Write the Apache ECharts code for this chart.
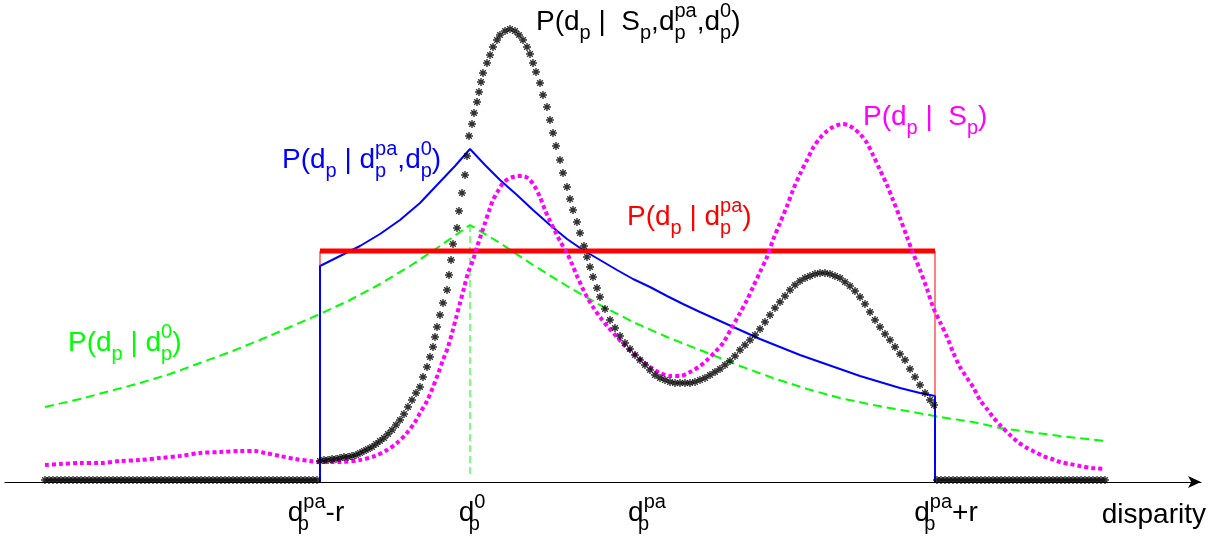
<!DOCTYPE html>
<html>
<head>
<meta charset="utf-8">
<script src="https://cdn.jsdelivr.net/npm/echarts@6/dist/echarts.min.js"></script>
<style>html,body{margin:0;padding:0;background:#fff}#c{width:1224px;height:548px}</style>
</head>
<body>
<div id="c"></div>
<script>
// ---- data (x: disparity, y: probability density, both in chart units) ----
const tickValues = [316, 472, 647, 946];
const tickLabels = [
  '{m|d}{sb0|p}{sp|pa}{m|-r}',
  '{m|d}{sb0|p}{sp|0}',
  '{m|d}{sb0|p}{sp|pa}',
  '{m|d}{sb0|p}{sp|pa}{m|+r}'
];
const axisName = '{m|disparity}';

const seriesNames = ['P(dp | dp0)', 'P(dp | dppa,dp0)', 'P(dp | dppa)', 'P(dp | Sp)', 'P(dp | Sp,dppa,dp0)'];

const greenPrior = [[45,75],[80,83],[110,91],[140,99],[170,108],[200,119],[230,130],[260,142],[290,155],[320,168],[350,182],[380,198],[410,216],[440,236],[470,257],[500,239],[533,217],[567,196],[600,177],[633,160],[667,145],[700,132],[740,116],[773,104],[807,93],[840,84],[873,77],[907,71],[940,65],[973,60],[1000,54],[1030,50],[1060,46],[1105,41]];
const greenMarker = [[470,257],[470,6]];

const bluePrior = [[320,0],[320,216],[340,226],[360,236],[380,248],[400,262],[420,279],[437,297],[455,316],[470,333],[485,317],[500,302],[517,287],[533,272],[550,257],[567,243],[583,232],[600,222],[617,212],[633,203],[650,195],[667,186],[683,178],[700,170],[720,161],[740,152],[760,143],[780,135],[800,127],[820,120],[840,113],[860,106],[880,100],[900,94],[920,89],[935,86],[935,0]];

const redUniform = [[320,231],[935,231]];
const redEdges = [[320,216],[320,231],'-',[935,231],[935,86]];

const magentaLik = [[45,17],[60,18],[80,19],[100,19],[120,21],[140,22],[160,24],[180,26],[200,29],[220,30],[240,31],[255,31],[265,29],[280,26],[295,23],[310,21],[320,20],[340,20],[360,22],[375,26],[387,32],[397,39],[407,49],[415,60],[420,69],[427,81],[433,95],[438,108],[443,122],[448,135],[452,149],[456,164],[460,179],[464,194],[468,209],[473,222],[477,235],[481,247],[485,259],[489,271],[493,282],[498,291],[503,299],[508,303],[513,305],[518,306],[522,306],[526,305],[530,302],[535,295],[540,285],[545,272],[550,261],[555,251],[560,241],[567,229],[572,218],[577,206],[582,195],[587,185],[593,175],[600,165],[608,155],[617,145],[625,136],[633,129],[641,122],[650,115],[660,109],[670,106],[680,106],[690,110],[700,116],[707,122],[715,130],[723,139],[731,153],[740,169],[747,182],[753,195],[760,210],[767,225],[773,242],[780,259],[787,276],[793,292],[800,308],[807,322],[813,334],[820,344],[827,351],[833,355],[838,357],[843,358],[848,357],[853,354],[860,348],[867,339],[873,327],[880,312],[887,297],[893,282],[900,264],[907,245],[913,229],[920,212],[927,193],[933,175],[940,160],[947,145],[953,130],[960,115],[967,104],[973,95],[980,82],[987,73],[993,65],[1000,57],[1010,47],[1018,40],[1027,34],[1035,30],[1043,26],[1052,23],[1060,20],[1070,18],[1080,16],[1092,14],[1105,13]];

const blackPost = [
[45,2],[49,2],[53,2],[57,2],[61,2],[65,2],[69,2],[73,2],[77,2],[81,2],[85,2],[89,2],[93,2],[97,2],[101,2],[105,2],[109,2],[113,2],[117,2],[121,2],[125,2],[129,2],[133,2],[137,2],[141,2],[145,2],[149,2],[153,2],[157,2],[161,2],[165,2],[169,2],[173,2],[177,2],[181,2],[185,2],[189,2],[193,2],[197,2],[201,2],[205,2],[209,2],[213,2],[217,2],[221,2],[225,2],[229,2],[233,2],[237,2],[241,2],[245,2],[249,2],[253,2],[257,2],[261,2],[265,2],[269,2],[273,2],[277,2],[281,2],[285,2],[289,2],[293,2],[297,2],[301,2],[305,2],[309,2],[313,2],[317,2],
[320,21],[324,22],[328,22],[332,23],[336,23],[340,24],[344,25],[348,25],[352,26],[356,27],[360,29],[364,31],[368,33],[372,35],[376,38],[380,41],[384,44],[388,48],[392,52],[396,57],[400,62],[404,68],[408,75],[412,82],[416,89],[420,95],[423,105],[427,115],[430,125],[433,135],[435,145],[437,155],[440,167],[443,179],[447,192],[449,207],[451,222],[453,238],[457,254],[459,271],[462,289],[465,307],[467,326],[469,346],[472,358],[474,369],[477,380],[479,390],[481,400],[483,409],[487,419],[490,427],[493,435],[497,442],[500,447],[505,451],[510,453],[515,451],[519,447],[523,442],[527,435],[530,428],[533,419],[536,410],[540,399],[543,387],[547,375],[550,362],[553,349],[556,336],[560,322],[563,309],[567,295],[570,283],[573,272],[577,260],[580,249],[584,236],[587,225],[590,215],[593,205],[597,194],[600,185],[605,173],[610,162],[615,154],[620,146],[625,139],[630,133],[635,127],[640,122],[645,117],[650,112],[655,107],[660,104],[665,102],[670,100],[675,99],[680,99],[685,99],[690,99],[695,100],[700,102],[705,104],[710,107],[715,110],[720,113],[725,117],[730,121],[735,126],[740,132],[745,137],[750,142],[755,147],[760,153],[765,160],[770,167],[775,174],[780,180],[785,186],[790,192],[795,197],[800,201],[805,204],[810,206],[815,208],[820,209],[825,209],[830,208],[835,206],[840,204],[845,200],[850,196],[855,191],[860,185],[865,178],[870,170],[875,162],[880,155],[885,148],[890,142],[895,135],[900,128],[905,122],[910,113],[915,105],[920,97],[925,89],[930,82],[934,77],
[937,2],[941,2],[945,2],[949,2],[953,2],[957,2],[961,2],[965,2],[969,2],[973,2],[977,2],[981,2],[985,2],[989,2],[993,2],[997,2],[1001,2],[1005,2],[1009,2],[1013,2],[1017,2],[1021,2],[1025,2],[1029,2],[1033,2],[1037,2],[1041,2],[1045,2],[1049,2],[1053,2],[1057,2],[1061,2],[1065,2],[1069,2],[1073,2],[1077,2],[1081,2],[1085,2],[1089,2],[1093,2],[1097,2],[1101,2],[1105,2]
];

// curve annotation texts
const curveLabels = [
  '{m|P(d}{sb|p}{m| |  S}{sb|p}{m|,d}{sb0|p}{sp|pa}{m|,d}{sb0|p}{sp|0}{m|)}',
  '{m|P(d}{sb|p}{m| | d}{sb0|p}{sp|pa}{m|,d}{sb0|p}{sp|0}{m|)}',
  '{m|P(d}{sb|p}{m| |  S}{sb|p}{m|)}',
  '{m|P(d}{sb|p}{m| | d}{sb0|p}{sp|pa}{m|)}',
  '{m|P(d}{sb|p}{m| | d}{sb0|p}{sp|0}{m|)}'
];

// ---- layout / style ----
const FONT = '"Liberation Sans", Arial, Helvetica, sans-serif';
const C = {green:'#00ff00', blue:'#0000ff', red:'#ff0000', magenta:'#ff00ff', black:'#000000'};
const labelLayout = [
  {left:536, top:1,   color:C.black},
  {left:282, top:139, color:C.blue},
  {left:863, top:103, color:C.magenta},
  {left:627, top:196, color:C.red},
  {left:68,  top:322, color:C.green}
];

function richStyles(color, key) {
  const mk = (o) => Object.assign({fontFamily: FONT, [key]: color}, o);
  return {
    m:   mk({fontSize:28, lineHeight:42, verticalAlign:'middle'}),
    sp:  mk({fontSize:20, lineHeight:20, verticalAlign:'top'}),
    sb:  mk({fontSize:20, lineHeight:20, verticalAlign:'bottom'}),
    sb0: mk({fontSize:20, lineHeight:20, verticalAlign:'bottom', width:0})
  };
}

const chart = echarts.init(document.getElementById('c'), null, {renderer:'canvas'});
chart.setOption({
  backgroundColor:'#ffffff',
  animation:false,
  grid:{left:5, right:23, top:0, bottom:66},
  xAxis:{
    type:'value', min:5, max:1201,
    name: axisName, nameLocation:'end', nameGap:5,
    nameTextStyle:{align:'right', verticalAlign:'top', padding:[12,0,0,0], rich: richStyles('#000','color')},
    axisLine:{show:true, onZero:false, symbol:['none','arrow'], symbolSize:[9,13], lineStyle:{color:'#000', width:1.2}},
    axisTick:{show:false},
    splitLine:{show:false},
    axisLabel:{
      customValues: tickValues, margin:10,
      formatter: (v) => { const i = tickValues.indexOf(v); return i >= 0 ? tickLabels[i] : ''; },
      rich: richStyles('#000','color')
    }
  },
  yAxis:{type:'value', min:0, max:482, show:false},
  series:[
    {name:seriesNames[0], type:'line', data:greenPrior, showSymbol:false, lineStyle:{color:C.green, width:2, type:[9,5]}, z:2},
    {name:'d0 marker', type:'line', data:greenMarker, showSymbol:false, lineStyle:{color:C.green, width:1, type:[7,4]}, z:2},
    {name:seriesNames[1], type:'line', data:bluePrior, showSymbol:false, lineStyle:{color:C.blue, width:2}, z:3},
    {name:'edges', type:'line', data:redEdges, showSymbol:false, connectNulls:false, lineStyle:{color:C.red, width:1}, z:3},
    {name:seriesNames[2], type:'line', data:redUniform, showSymbol:false, lineStyle:{color:C.red, width:5}, z:4},
    {name:seriesNames[3], type:'line', data:magentaLik, smooth:0.3, showSymbol:false, lineStyle:{color:C.magenta, width:4, type:[4,3]}, z:5},
    {name:seriesNames[4], type:'scatter', data:blackPost,
      symbol:'path://M4,0L4,8M0,4L8,4M1.2,1.2L6.8,6.8M1.2,6.8L6.8,1.2', symbolSize:8,
      itemStyle:{color:'#000', borderColor:'#000', borderWidth:1.4}, z:6}
  ],
  graphic: labelLayout.map((l, i) => ({
    type:'text', left:l.left, top:l.top, z:10,
    style:{text: curveLabels[i], rich: richStyles(l.color, 'fill')}
  }))
});
</script>
</body>
</html>
